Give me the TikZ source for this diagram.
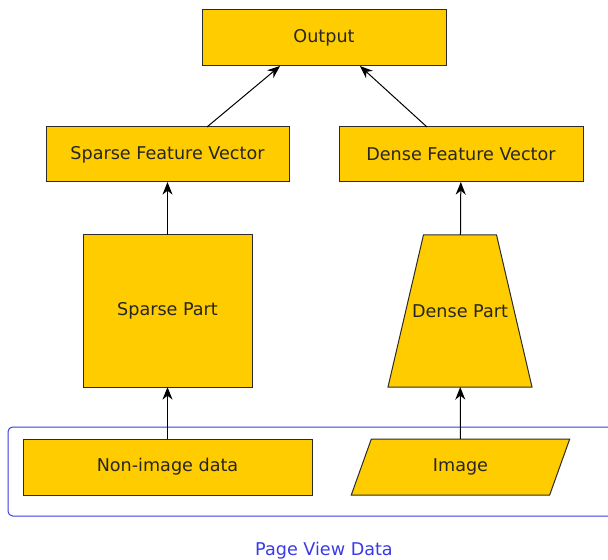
\documentclass[tikz,border=0pt]{standalone}
\usepackage{fontspec}
\setmainfont{DejaVu Sans}
\usetikzlibrary{shapes.geometric,arrows.meta,backgrounds}

\definecolor{boxfill}{HTML}{FFCC00}
\definecolor{boxline}{HTML}{2B2B2B}
\definecolor{groupblue}{HTML}{3A3AE6}

\tikzset{
  >={Stealth[length=9.5pt,width=7.5pt,inset=3pt]},
  every node/.style={font=\fontsize{13.2}{16}\selectfont, text=black!85, inner sep=0pt, outer sep=0pt},
  every edge/.style={draw, line width=0.75pt},
  yellowbox/.style={draw=boxline, fill=boxfill, line width=0.75pt, minimum height=41.25pt},
  yellowfill/.style={draw=boxline, fill=boxfill, line width=0.75pt},
  partbox/.style={yellowbox, minimum width=126.75pt, minimum height=114pt},
  densebox/.style={minimum width=108pt, minimum height=114pt},
  imagebox/.style={yellowbox, trapezium, trapezium stretches=true, trapezium left angle=69.4, trapezium right angle=110.6, minimum width=164.25pt, minimum height=42pt},
  groupbox/.style={draw=groupblue, line width=0.75pt, rounded corners=3.5pt, minimum width=474pt, minimum height=66.75pt}
}

\begin{document}
\begin{tikzpicture}[x=0.75pt, y=-0.75pt]

\useasboundingbox (0, 0) rectangle (608, 560);

\node[groupbox] (pvd) at (324, 471.5) {};
\node[text=groupblue] (pvdlabel) at (324, 551) {Page View Data};

\node[yellowbox, minimum width=183pt, minimum height=42pt] (out) at (324, 38) {Output};
\node[yellowbox, minimum width=182.25pt] (sfv) at (167.5, 154.5) {Sparse Feature Vector};
\node[yellowbox, minimum width=183pt] (dfv) at (461, 154.5) {Dense Feature Vector};
\node[partbox] (sp) at (167.5, 311) {Sparse Part};
\node[densebox] (dp) at (460, 311) {Dense Part};
\node[yellowbox, minimum width=216.75pt, minimum height=42pt] (nid) at (167.5, 467) {Non-image data};
\node[imagebox] (img) at (460.5, 467) {Image};

% trapezoid behind the dense part text
\begin{scope}[on background layer]
\draw[yellowfill] (dp.south west) -- (dp.south east)
  -- ([xshift=-26.6pt]dp.north east) -- ([xshift=26.6pt]dp.north west) -- cycle;
\end{scope}

\draw (nid) edge[->] (sp);
\draw (img) edge[->] (dp);
\draw (sp) edge[->] (sfv);
\draw (dp) edge[->] (dfv);
\draw ([xshift=29.6pt]sfv.north) edge[->] ([xshift=-33pt]out.south);
\draw ([xshift=-25.5pt]dfv.north) edge[->] ([xshift=27pt]out.south);

\end{tikzpicture}
\end{document}
